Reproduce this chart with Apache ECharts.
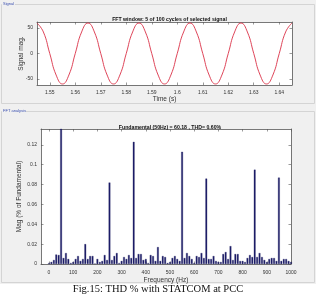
<!DOCTYPE html>
<html><head><meta charset="utf-8">
<script src="https://cdn.jsdelivr.net/npm/echarts@6/dist/echarts.min.js"></script>
<style>html,body{margin:0;padding:0;background:#fff}#c{width:316px;height:296px}</style>
</head><body><div id="c"></div>
<script>
const timeS = [1.545,1.5475,1.55,1.5525,1.555,1.5575,1.56,1.5625,1.565,1.5675,1.57,1.5725,1.575,1.5775,1.58,1.5825,1.585,1.5875,1.59,1.5925,1.595,1.5975,1.60,1.6025,1.605,1.6075,1.61,1.6125,1.615,1.6175,1.62,1.6225,1.625,1.6275,1.63,1.6325,1.635,1.6375,1.64,1.6425,1.645];
const signalMag = [60,42.4,0,-42.4,-60,-42.4,0,42.4,60,42.4,0,-42.4,-60,-42.4,0,42.4,60,42.4,0,-42.4,-60,-42.4,0,42.4,60,42.4,0,-42.4,-60,-42.4,0,42.4,60,42.4,0,-42.4,-60,-42.4,0,42.4,60];
const timeTicks = [1.55,1.56,1.57,1.58,1.59,1.60,1.61,1.62,1.63,1.64];
const sigTicks = [-50,0,50];
const freqHz = [0,10,20,30,40,50,60,70,80,90,100,110,120,130,140,150,160,170,180,190,200,210,220,230,240,250,260,270,280,290,300,310,320,330,340,350,360,370,380,390,400,410,420,430,440,450,460,470,480,490,500,510,520,530,540,550,560,570,580,590,600,610,620,630,640,650,660,670,680,690,700,710,720,730,740,750,760,770,780,790,800,810,820,830,840,850,860,870,880,890,900,910,920,930,940,950,960,970,980,990,1000];
const magPct = [0.001,0.002,0.004,0.0095,0.009,100,0.006,0.011,0.005,0.001,
0.002,0.005,0.008,0.003,0.005,0.020,0.005,0.008,0.008,0.0005,
0.005,0.002,0.003,0.009,0.004,0.082,0.004,0.008,0.011,0.001,
0.003,0.007,0.005,0.009,0.006,0.123,0.006,0.010,0.010,0.004,
0.005,0.001,0.009,0.008,0.003,0.017,0.003,0.008,0.007,0.001,
0.002,0.006,0.008,0.005,0.003,0.113,0.006,0.011,0.008,0.005,
0.001,0.008,0.007,0.011,0.006,0.086,0.005,0.005,0.008,0.003,
0.002,0.002,0.010,0.012,0.005,0.018,0.004,0.010,0.010,0.003,
0.003,0.002,0.006,0.009,0.007,0.095,0.007,0.011,0.007,0.004,
0.002,0.005,0.006,0.006,0.003,0.087,0.003,0.005,0.005,0.003,0.002];
const freqTicks = [0,100,200,300,400,500,600,700,800,900,1000];
const magTicks = [0,0.02,0.04,0.06,0.08,0.1,0.12];

const F = 'Liberation Sans, Arial, sans-serif';
const fmt = v => String(+v.toFixed(4));
function axPair(gi, pos, min, max, ticks, show, name, nameGap, margin) {
  return {
    type: 'value', gridIndex: gi, position: pos, min: min, max: max,
    name: show ? name : '', nameLocation: 'middle', nameGap: nameGap, nameMoveOverlap: false,
    nameTextStyle: {fontFamily: F, fontSize: 6.5, color: '#333'},
    axisLine: {show: true, onZero: false, lineStyle: {color: '#555', width: 0.8}},
    axisTick: {show: true, inside: true, length: 2.5, customValues: ticks, lineStyle: {color: '#555', width: 0.6}},
    axisLabel: {show: show, customValues: ticks, formatter: fmt, fontFamily: F, fontSize: 5, color: '#333', margin: margin || 4},
    splitLine: {show: false}
  };
}
const chart = echarts.init(document.getElementById('c'), null, {renderer: 'canvas'});
chart.setOption({
  backgroundColor: '#fff',
  animation: false,
  graphic: [
    {type: 'rect', shape: {x: 0, y: 0, width: 316, height: 284}, style: {fill: '#f0f0f0'}, z: -10},
    {type: 'rect', shape: {x: 1.5, y: 4.5, width: 313, height: 99}, style: {fill: 'none', stroke: '#d4d4d4', lineWidth: 1}, z: -9},
    {type: 'rect', shape: {x: 1.5, y: 111.5, width: 313, height: 171}, style: {fill: 'none', stroke: '#d4d4d4', lineWidth: 1}, z: -9},
    {type: 'rect', shape: {x: 2, y: 1, width: 13, height: 7}, style: {fill: '#f0f0f0'}, z: -8},
    {type: 'rect', shape: {x: 2, y: 108, width: 24, height: 7}, style: {fill: '#f0f0f0'}, z: -8},
    {type: 'text', left: 3, top: 1.5, style: {text: 'Signal', font: '4px ' + F, fill: '#3a4fb0'}},
    {type: 'text', left: 3, top: 108.5, style: {text: 'FFT analysis', font: '4px ' + F, fill: '#3a4fb0'}},
    {type: 'text', left: 'center', top: 284, style: {text: 'Fig.15: THD % with STATCOM at PCC', font: '10.5px "Liberation Serif", "DejaVu Serif", serif', fill: '#111'}}
  ],
  title: [
    {text: 'FFT window: 5 of 100 cycles of selected signal', left: 164.5, textAlign: 'center', top: 12.5,
     textStyle: {fontFamily: F, fontSize: 5.2, fontWeight: 'bold', color: '#111'}},
    {text: 'Fundamental (50Hz) = 60.18 , THD= 0.60%', left: 165, textAlign: 'center', top: 120.5,
     textStyle: {fontFamily: F, fontSize: 5.2, fontWeight: 'bold', color: '#111'}}
  ],
  grid: [
    {left: 37, top: 22, width: 255, height: 63, show: true, backgroundColor: '#fff', borderWidth: 0},
    {left: 41, top: 129, width: 250, height: 135, show: true, backgroundColor: '#fff', borderWidth: 0}
  ],
  xAxis: [
    axPair(0, 'bottom', 1.545, 1.645, timeTicks, true, 'Time (s)', 11, 5),
    axPair(0, 'top', 1.545, 1.645, timeTicks, false),
    axPair(1, 'bottom', -33, 1000, freqTicks, true, 'Frequency (Hz)', 13, 6),
    axPair(1, 'top', -33, 1000, freqTicks, false)
  ],
  yAxis: [
    axPair(0, 'left', -62, 62, sigTicks, true, 'Signal mag.', 12),
    axPair(0, 'right', -62, 62, sigTicks, false),
    axPair(1, 'left', 0, 0.136, magTicks, true, 'Mag (% of Fundamental)', 18.5),
    axPair(1, 'right', 0, 0.136, magTicks, false)
  ],
  series: [
    {type: 'line', xAxisIndex: 0, yAxisIndex: 0, smooth: true, showSymbol: false,
     lineStyle: {color: '#da3046', width: 0.9}, data: timeS.map((t, i) => [t, signalMag[i]]), clip: true},
    {type: 'bar', xAxisIndex: 2, yAxisIndex: 2, barWidth: 1.7, clip: true,
     itemStyle: {color: '#1f1f6b', borderColor: '#14145a', borderWidth: 0.3},
     data: freqHz.map((f, i) => [f, magPct[i]])}
  ]
});
</script></body></html>
